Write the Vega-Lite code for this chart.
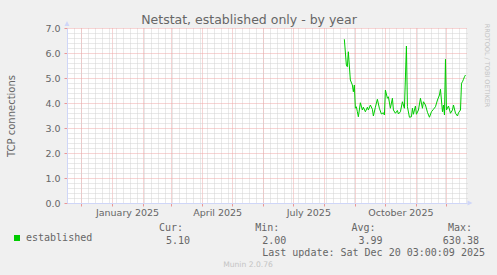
{
  "$schema": "https://vega.github.io/schema/vega-lite/v6.json",
  "width": 400,
  "height": 175,
  "autosize": "none",
  "padding": {"left": 67, "top": 28, "right": 30, "bottom": 72},
  "background": "#F0F0F0",
  "config": {"view": {"fill": "#FFFFFF", "stroke": null}, "font": "DejaVu Sans"},
  "title": {"text": "Munin 2.0.76", "orient": "bottom", "anchor": "middle", "frame": "group", "dx": -19, "offset": 3, "fontSize": 7.6, "font": "DejaVu Sans", "fontWeight": "normal", "color": "#C4C4C4", "baseline": "top"},
  "data": {"values": [
    {"date": "2025-08-21", "value": 6.55},
    {"date": "2025-08-23", "value": 5.52},
    {"date": "2025-08-24", "value": 5.45},
    {"date": "2025-08-25", "value": 6.05},
    {"date": "2025-08-27", "value": 4.92},
    {"date": "2025-08-29", "value": 4.72},
    {"date": "2025-08-30", "value": 4.45},
    {"date": "2025-08-31", "value": 4.72},
    {"date": "2025-09-01", "value": 3.79},
    {"date": "2025-09-02", "value": 3.85},
    {"date": "2025-09-03", "value": 3.65},
    {"date": "2025-09-04", "value": 3.45},
    {"date": "2025-09-06", "value": 4.01},
    {"date": "2025-09-08", "value": 3.72},
    {"date": "2025-09-09", "value": 3.83},
    {"date": "2025-09-11", "value": 3.65},
    {"date": "2025-09-13", "value": 3.83},
    {"date": "2025-09-14", "value": 3.72},
    {"date": "2025-09-16", "value": 3.92},
    {"date": "2025-09-18", "value": 3.75},
    {"date": "2025-09-19", "value": 3.48},
    {"date": "2025-09-21", "value": 3.83},
    {"date": "2025-09-23", "value": 4.15},
    {"date": "2025-09-25", "value": 3.79},
    {"date": "2025-09-27", "value": 3.56},
    {"date": "2025-09-29", "value": 3.61},
    {"date": "2025-09-30", "value": 3.52},
    {"date": "2025-10-01", "value": 4.52},
    {"date": "2025-10-03", "value": 4.19},
    {"date": "2025-10-04", "value": 4.25},
    {"date": "2025-10-06", "value": 3.79},
    {"date": "2025-10-08", "value": 4.19},
    {"date": "2025-10-09", "value": 3.72},
    {"date": "2025-10-11", "value": 3.59},
    {"date": "2025-10-13", "value": 3.70},
    {"date": "2025-10-14", "value": 3.56},
    {"date": "2025-10-16", "value": 3.65},
    {"date": "2025-10-18", "value": 4.05},
    {"date": "2025-10-19", "value": 3.92},
    {"date": "2025-10-20", "value": 3.79},
    {"date": "2025-10-22", "value": 6.28},
    {"date": "2025-10-23", "value": 3.85},
    {"date": "2025-10-25", "value": 3.43},
    {"date": "2025-10-27", "value": 3.45},
    {"date": "2025-10-28", "value": 3.79},
    {"date": "2025-10-29", "value": 3.55},
    {"date": "2025-10-31", "value": 3.88},
    {"date": "2025-11-01", "value": 3.55},
    {"date": "2025-11-03", "value": 3.72},
    {"date": "2025-11-05", "value": 4.19},
    {"date": "2025-11-07", "value": 3.79},
    {"date": "2025-11-08", "value": 4.05},
    {"date": "2025-11-10", "value": 3.92},
    {"date": "2025-11-12", "value": 3.63},
    {"date": "2025-11-14", "value": 3.43},
    {"date": "2025-11-16", "value": 3.65},
    {"date": "2025-11-18", "value": 3.75},
    {"date": "2025-11-20", "value": 3.85},
    {"date": "2025-11-22", "value": 4.12},
    {"date": "2025-11-24", "value": 4.32},
    {"date": "2025-11-25", "value": 4.55},
    {"date": "2025-11-27", "value": 3.65},
    {"date": "2025-11-28", "value": 3.92},
    {"date": "2025-11-29", "value": 3.52},
    {"date": "2025-11-30", "value": 5.75},
    {"date": "2025-12-01", "value": 3.72},
    {"date": "2025-12-03", "value": 3.88},
    {"date": "2025-12-05", "value": 3.59},
    {"date": "2025-12-07", "value": 3.72},
    {"date": "2025-12-08", "value": 3.92},
    {"date": "2025-12-10", "value": 3.59},
    {"date": "2025-12-12", "value": 3.48},
    {"date": "2025-12-13", "value": 3.61},
    {"date": "2025-12-15", "value": 3.72},
    {"date": "2025-12-16", "value": 4.79},
    {"date": "2025-12-17", "value": 4.85},
    {"date": "2025-12-18", "value": 4.95},
    {"date": "2025-12-19", "value": 5.05},
    {"date": "2025-12-20", "value": 5.12}
  ]},
  "layer": [
    {
      "mark": {"type": "line", "strokeOpacity": 0},
      "encoding": {
        "x": {
          "field": "date", "type": "temporal",
          "scale": {"type": "utc", "domain": [{"year": 2024, "month": 11, "date": 17, "utc": true}, {"year": 2025, "month": 12, "date": 21, "hours": 12, "utc": true}]},
          "axis": {
            "orient": "top", "tickCount": {"interval": "week", "step": 1},
            "grid": true, "gridColor": "#D2D2D2", "gridDash": [1, 1], "gridWidth": 1,
            "domain": false, "ticks": false, "labels": false,
            "title": "Netstat, established only - by year",
            "titleFont": "DejaVu Sans", "titleFontSize": 12.5, "titleFontWeight": "normal", "titleColor": "#666666",
            "titleX": 181.5, "titleY": -9, "titleAlign": "center", "titleBaseline": "middle", "titleAngle": 0
          }
        },
        "y": {
          "field": "value", "type": "quantitative",
          "scale": {"domain": [0, 7], "nice": false},
          "axis": {
            "orient": "right",
            "values": [0.2, 0.4, 0.6, 0.8, 1.2, 1.4, 1.6, 1.8, 2.2, 2.4, 2.6, 2.8, 3.2, 3.4, 3.6, 3.8, 4.2, 4.4, 4.6, 4.8, 5.2, 5.4, 5.6, 5.8, 6.2, 6.4, 6.6, 6.8],
            "grid": true, "gridColor": "#D2D2D2", "gridDash": [1, 1], "gridWidth": 1,
            "domain": false, "ticks": false, "labels": false,
            "title": "RRDTOOL / TOBI OETIKER",
            "titleFont": "DejaVu Sans", "titleFontSize": 6.5, "titleFontWeight": "normal", "titleColor": "#C4C4C4",
            "titleAngle": 90, "titleX": 19, "titleY": 37, "titleAlign": "center", "titleBaseline": "middle"
          }
        }
      }
    },
    {
      "mark": {"type": "line", "strokeWidth": 1},
      "encoding": {
        "x": {
          "field": "date", "type": "temporal",
          "scale": {"type": "utc", "domain": [{"year": 2024, "month": 11, "date": 17, "utc": true}, {"year": 2025, "month": 12, "date": 21, "hours": 12, "utc": true}]},
          "axis": {
            "orient": "bottom", "tickCount": {"interval": "month", "step": 1},
            "grid": true, "gridColor": "#EFA8A8", "gridDash": [1, 1], "gridWidth": 1,
            "domain": true, "domainColor": "#CFD6F8", "domainWidth": 1,
            "ticks": true, "tickColor": "#EB9696", "tickSize": 3, "tickWidth": 1,
            "labelExpr": "utcmonth(datum.value) % 3 == 0 ? utcFormat(datum.value, '%B %Y') : ''",
            "labelOffset": 15, "labelPadding": 1, "labelFont": "DejaVu Sans", "labelFontSize": 9.5, "labelColor": "#666666",
            "labelOverlap": false, "labelBound": false, "labelFlush": false,
            "title": [
              "Cur:\u00a0\u00a0\u00a0\u00a0\u00a0\u00a0\u00a0\u00a0\u00a0\u00a0\u00a0\u00a0Min:\u00a0\u00a0\u00a0\u00a0\u00a0\u00a0\u00a0\u00a0\u00a0\u00a0\u00a0\u00a0Avg:\u00a0\u00a0\u00a0\u00a0\u00a0\u00a0\u00a0\u00a0\u00a0\u00a0\u00a0\u00a0Max:",
              "\u28005.10\u00a0\u00a0\u00a0\u00a0\u00a0\u00a0\u00a0\u00a0\u00a0\u00a0\u00a0\u00a02.00\u00a0\u00a0\u00a0\u00a0\u00a0\u00a0\u00a0\u00a0\u00a0\u00a0\u00a0\u00a03.99\u00a0\u00a0\u00a0\u00a0\u00a0\u00a0\u00a0\u00a0\u00a0\u00a0630.38",
              "\u2800\u00a0\u00a0\u00a0\u00a0\u00a0\u00a0\u00a0\u00a0\u00a0\u00a0\u00a0\u00a0\u00a0\u00a0\u00a0\u00a0Last update: Sat Dec 20 03:00:09 2025"
            ],
            "titleFont": "DejaVu Sans Mono", "titleFontSize": 10, "titleFontWeight": "normal", "titleColor": "#666666",
            "titleX": 91.4, "titleY": 19.5, "titleAlign": "left", "titleBaseline": "top", "titleLineHeight": 12.5, "titleAngle": 0
          }
        },
        "y": {
          "field": "value", "type": "quantitative",
          "scale": {"domain": [0, 7], "nice": false},
          "axis": {
            "orient": "left", "values": [0, 1, 2, 3, 4, 5, 6, 7], "format": ".1f",
            "grid": true, "gridColor": "#EFA8A8", "gridDash": [1, 1], "gridWidth": 1,
            "domain": true, "domainColor": "#CFD6F8", "domainWidth": 1,
            "ticks": true, "tickColor": "#EB9696", "tickSize": 3, "tickWidth": 1,
            "labelPadding": 4, "labelFont": "DejaVu Sans", "labelFontSize": 9.5, "labelColor": "#666666",
            "title": "TCP connections",
            "titleFont": "DejaVu Sans", "titleFontSize": 10, "titleFontWeight": "normal", "titleColor": "#666666",
            "titleX": -56, "titleY": 87.5, "titleAngle": 270, "titleAlign": "center", "titleBaseline": "middle"
          }
        },
        "color": {
          "datum": "established",
          "scale": {"domain": ["established"], "range": ["#00CC00"]},
          "legend": {
            "orient": "none", "legendX": -55, "legendY": 205, "padding": 0, "offset": 0,
            "title": null, "symbolType": "square", "symbolSize": 36, "symbolStrokeWidth": 0,
            "labelFont": "DejaVu Sans Mono", "labelFontSize": 10, "labelColor": "#666666", "labelOffset": 4,
            "encode": {"symbols": {"update": {"fill": {"value": "#00CC00"}, "stroke": {"value": "#00CC00"}, "opacity": {"value": 1}}}}
          }
        }
      }
    },
    {
      "data": {"values": [{}]},
      "mark": {"type": "point", "shape": "M-1,-0.8L0,-2.8L1,-0.8Z", "size": 25, "filled": true, "color": "#CFD6F8", "opacity": 1},
      "encoding": {
        "x": {"datum": {"year": 2024, "month": 11, "date": 17, "utc": true}, "type": "temporal", "scale": {"type": "utc"}, "axis": null},
        "y": {"datum": 7, "type": "quantitative", "axis": null}
      }
    },
    {
      "data": {"values": [{}]},
      "mark": {"type": "point", "shape": "M0.2,-1L2.2,0L0.2,1Z", "size": 25, "filled": true, "color": "#CFD6F8", "opacity": 1},
      "encoding": {
        "x": {"datum": {"year": 2025, "month": 12, "date": 21, "hours": 12, "utc": true}, "type": "temporal", "scale": {"type": "utc"}, "axis": null},
        "y": {"datum": 0, "type": "quantitative", "axis": null}
      }
    }
  ],
  "resolve": {"axis": {"x": "independent", "y": "independent"}}
}
